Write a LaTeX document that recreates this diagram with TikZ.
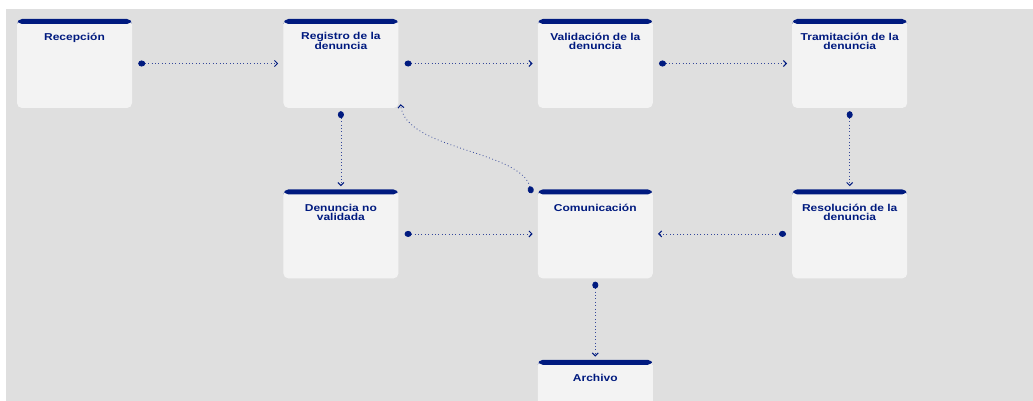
\documentclass[tikz,border=0pt]{standalone}
\usepackage{fontspec}
\newfontfamily\cardfont[FakeStretch=1.2]{Liberation Sans}
\usetikzlibrary{positioning,arrows.meta}
\definecolor{bggray}{HTML}{DFDFDF}
\definecolor{cardfill}{HTML}{F3F3F3}
\definecolor{navy}{HTML}{001A7F}
\definecolor{flowblue}{HTML}{34479A}
\tikzset{
  card/.style={rectangle, rounded corners=5pt, fill=cardfill,
    minimum width=115pt, minimum height=89pt, inner sep=0pt,
    path picture={\fill[navy] (path picture bounding box.north west)
      rectangle ([yshift=-5pt]path picture bounding box.north east);}},
  cardtitle/.style={font=\cardfont\bfseries\fontsize{10}{9}\selectfont,
    text=navy, align=center, inner sep=0pt, anchor=base},
  flow/.style={flowblue, line width=0.8pt, dash pattern=on 0.8pt off 2.6pt,
    {Circle[length=7pt,width=6pt,navy]}-{Straight Barb[length=3pt,width=6pt,line width=1pt,navy]}}
}
\begin{document}
\begin{tikzpicture}[x=1pt,y=-1pt]
\def\hgap{139pt} % gap between columns
\def\vgap{81pt} % gap between rows
\def\ty{22pt} % title baseline below card top, one line
\def\tyy{31pt} % same, two lines
\useasboundingbox (0,0) rectangle (1033,401);
\fill[white] (0,0) rectangle (1033,401);
\fill[bggray] (6,9) rectangle (1033,401);
\clip (0,0) rectangle (1033,401);

% cards
\node[card] (recep) at (74.5,63.5) {};
\node[card, right=151pt of recep] (reg) {};
\node[card, right=\hgap of reg] (val) {};
\node[card, right=\hgap of val] (tram) {};
\node[card, below=\vgap of reg] (noval) {};
\node[card, below=\vgap of val] (com) {};
\node[card, below=\vgap of tram] (res) {};
\node[card, below=\vgap of com] (arch) {};

% titles
\node[cardtitle] (recep-t) at ([yshift=-\ty]recep.north) {Recepción};
\node[cardtitle] (reg-t) at ([yshift=-\tyy]reg.north) {Registro de la\\denuncia};
\node[cardtitle] (val-t) at ([yshift=-\tyy]val.north) {Validación de la\\denuncia};
\node[cardtitle] (tram-t) at ([yshift=-\tyy]tram.north) {Tramitación de la\\denuncia};
\node[cardtitle] (noval-t) at ([yshift=-\tyy]noval.north) {Denuncia no\\validada};
\node[cardtitle] (com-t) at ([yshift=-\ty]com.north) {Comunicación};
\node[cardtitle] (res-t) at ([yshift=-\tyy]res.north) {Resolución de la\\denuncia};
\node[cardtitle] (arch-t) at ([yshift=-\ty]arch.north) {Archivo};

% flows
\draw[flow] ([xshift=6pt]recep.east) -- ([xshift=-5pt]reg.west);
\draw[flow] ([xshift=6pt]reg.east) -- ([xshift=-5pt]val.west);
\draw[flow] ([xshift=6pt]val.east) -- ([xshift=-5pt]tram.west);
\draw[flow] ([yshift=-3pt]reg.south) -- ([yshift=3pt]noval.north);
\draw[flow] ([yshift=-3pt]tram.south) -- ([yshift=3pt]res.north);
\draw[flow] ([xshift=6pt]noval.east) -- ([xshift=-5pt]com.west);
\draw[flow] ([xshift=-6pt]res.west) -- ([xshift=5pt]com.east);
\draw[flow] ([yshift=-3pt]com.south) -- ([yshift=3pt]arch.north);
\draw[flow] ([xshift=-6pt,yshift=-4pt]com.north west)
  .. controls (520,150) and (405,150) .. ([xshift=2pt,yshift=4pt]reg.south east);
\end{tikzpicture}
\end{document}
